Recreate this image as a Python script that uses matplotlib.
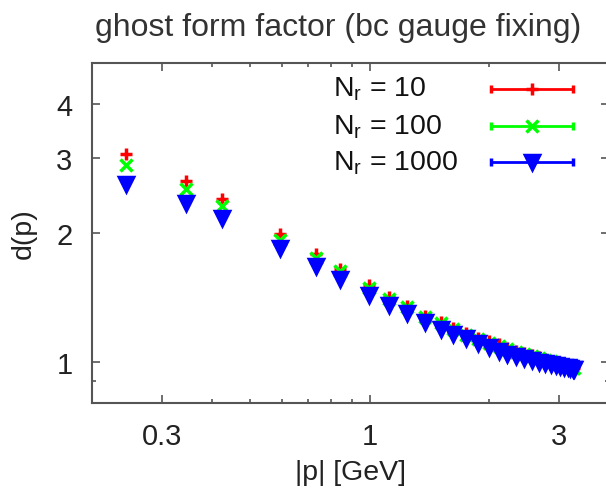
import numpy as np
import matplotlib
matplotlib.use("Agg")
import matplotlib.pyplot as plt
from matplotlib.ticker import FixedLocator, NullFormatter, FixedFormatter

plt.rcParams['font.family'] = ['Liberation Sans', 'DejaVu Sans']

# momentum values |p| in GeV
p = [0.244, 0.345, 0.425, 0.595, 0.731, 0.840, 0.995, 1.12, 1.24, 1.38,
     1.51, 1.62, 1.75, 1.875, 1.99, 2.11, 2.22, 2.34, 2.45, 2.56,
     2.66, 2.76, 2.85, 2.94, 3.02, 3.09, 3.15, 3.20, 3.24, 3.27]

# ghost form factor d(p) for the three N_r values
d_10 = [3.06, 2.64, 2.40, 1.99, 1.79, 1.65, 1.51, 1.42, 1.35, 1.28,
        1.24, 1.197, 1.164, 1.133, 1.115, 1.097, 1.074, 1.059, 1.045, 1.034,
        1.023, 1.012, 1.004, 0.996, 0.988, 0.983, 0.978, 0.974, 0.970, 0.967]
d_100 = [2.89, 2.54, 2.31, 1.93, 1.75, 1.63, 1.49, 1.40, 1.34, 1.27,
         1.23, 1.19, 1.157, 1.127, 1.108, 1.09, 1.068, 1.054, 1.04, 1.03,
         1.019, 1.009, 1.001, 0.993, 0.986, 0.980, 0.975, 0.971, 0.968, 0.965]
d_1000 = [2.60, 2.35, 2.17, 1.84, 1.67, 1.56, 1.43, 1.36, 1.30, 1.24,
          1.19, 1.16, 1.133, 1.103, 1.08, 1.061, 1.041, 1.029, 1.018, 1.007,
          0.999, 0.991, 0.986, 0.980, 0.976, 0.972, 0.969, 0.966, 0.963, 0.960]

# statistical errors (small, visible only at low p)
err_10 = [0.08, 0.05, 0.04, 0.03, 0.02, 0.02, 0.015, 0.01, 0.01, 0.01] + [0.005] * 20
err_100 = [0.03, 0.02, 0.015, 0.01, 0.01, 0.008, 0.006, 0.005, 0.005, 0.004] + [0.003] * 20
err_1000 = [0.01, 0.008, 0.006, 0.005, 0.004, 0.004, 0.003, 0.003, 0.003, 0.003] + [0.002] * 20

labels = ['10', '100', '1000']
colors = ['#ff0000', '#00ff00', '#0000ff']
markers = ['+', 'x', 'v']
msizes = [8, 8, 10]

fig = plt.figure(figsize=(6.06, 4.89), dpi=100)
ax = fig.add_axes([92 / 606, 85 / 489, 517 / 606, 340 / 489])

series = [(d_10, err_10), (d_100, err_100), (d_1000, err_1000)]
for (d, e), c, m, ms in zip(series, colors, markers, msizes):
    ax.errorbar(p, d, yerr=e, fmt=m, color=c, ms=ms, mew=2.5,
                elinewidth=2, capsize=0, linestyle='none')

ax.set_xscale('log')
ax.set_yscale('log')
ax.set_xlim(0.2, 4.0)
ax.set_ylim(0.8, 5.0)

ax.xaxis.set_major_locator(FixedLocator([0.3, 1, 3]))
ax.xaxis.set_major_formatter(FixedFormatter(['0.3', '1', '3']))
ax.xaxis.set_minor_locator(FixedLocator([0.4, 0.5, 0.6, 0.7, 0.8, 0.9, 2]))
ax.xaxis.set_minor_formatter(NullFormatter())
ax.yaxis.set_major_locator(FixedLocator([1, 2, 3, 4]))
ax.yaxis.set_major_formatter(FixedFormatter(['1', '2', '3', '4']))
ax.yaxis.set_minor_locator(FixedLocator([0.9]))
ax.yaxis.set_minor_formatter(NullFormatter())

ax.tick_params(which='both', direction='in', top=True, right=True,
               color='#555555', width=1.2, labelsize=21, labelcolor='#222222')
ax.tick_params(which='major', length=6)
ax.tick_params(which='minor', length=3)
ax.tick_params(axis='x', pad=14)
ax.tick_params(axis='y', pad=14)
for s in ax.spines.values():
    s.set_color('#555555')
    s.set_linewidth(1.5)

ax.set_xlabel('|p| [GeV]', fontsize=20.5, color='#222222', labelpad=6)
ax.set_ylabel('d(p)', fontsize=20.5, color='#222222', labelpad=14)
fig.text(338 / 606, 1 - 28 / 489, 'ghost form factor (bc gauge fixing)',
         ha='center', va='center', fontsize=23, color='#333333')

# gnuplot-style key
key_y = [0.925, 0.815, 0.71]
for ky, lab, c, m, ms in zip(key_y, labels, colors, markers, msizes):
    ax.text(0.466, ky, 'N$_\\mathregular{r}$ = ' + lab, transform=ax.transAxes,
            fontsize=20.5, color='#111111', va='center', ha='left')
    ax.errorbar([0.851], [ky], xerr=[0.08], fmt=m, color=c, ms=ms, mew=2.5,
                elinewidth=2, capsize=3, capthick=2, transform=ax.transAxes,
                clip_on=False)

fig.savefig('out.png', dpi=100)
